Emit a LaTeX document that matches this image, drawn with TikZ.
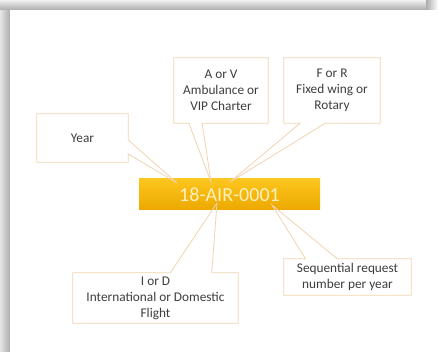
\documentclass[tikz,border=0pt]{standalone}
\usepackage{fontspec}
\setmainfont{Carlito}
\usetikzlibrary{calc}
\definecolor{edge}{RGB}{240,212,178}
\definecolor{ink}{RGB}{62,62,62}
\definecolor{goldtop}{RGB}{252,198,30}
\definecolor{goldbot}{RGB}{236,168,0}
\definecolor{codetext}{RGB}{255,240,190}

\begin{document}
\begin{tikzpicture}[x=1pt, y=-1pt,
  note/.style = {shape=rectangle, align=center, inner sep=0pt,
    text=ink, font=\fontsize{13.3}{16}\selectfont},
  code/.style = {shape=rectangle, inner sep=0pt,
    minimum width=181pt, minimum height=31pt,
    top color=goldtop, bottom color=goldbot,
    text=codetext, font=\fontsize{20}{24}\selectfont},
  callout/.style = {draw=edge, line width=0.8pt}]
\useasboundingbox (0,0) rectangle (438,352);
% page with its shadow
\fill[gray!55] (0,0) rectangle (438,352);
\shade[left color=gray!20, right color=gray!65] (0,0) rectangle (10,352);
\shade[top color=gray!12, bottom color=gray!65] (0,0) rectangle (438,10);
\shade[left color=gray!65, right color=white] (426,0) rectangle (438,10);
\fill[white] (10,10) rectangle (438,352);

\node[code] (code) at (229.5,194.5) {18-AIR-0001};

\node[note, minimum width=91pt, minimum height=48pt] (year) at (82.5,138) {Year};
\node[note, minimum width=94pt, minimum height=65pt] (avip) at (221,90.5)
  {A or V\\Ambulance or\\VIP Charter};
\node[note, minimum width=96pt, minimum height=65pt] (fixrot) at (332,90.5)
  {F or R\\Fixed wing or\\Rotary};
\node[note, minimum width=165pt, minimum height=50pt] (intdom) at (155.5,298)
  {I or D\\International or Domestic\\Flight};
\node[note, minimum width=127pt, minimum height=36pt] (seqnum) at (347.5,277)
  {Sequential request\\number per year};

% pointer tips on the code
\coordinate (tyear) at (177,183);
\coordinate (tavip) at (211,182);
\coordinate (tfixrot) at (230,182);
\coordinate (tintdom) at (217,203);
\coordinate (tseqnum) at (272,205);

% callout outlines
\draw[callout] (year.north west) -- (year.north east)
  -- ($(year.north east)!.54!(year.south east)$) -- (tyear)
  -- ($(year.north east)!.83!(year.south east)$)
  -- (year.south east) -- (year.south west) -- cycle;
\draw[callout] (avip.north west) -- (avip.north east) -- (avip.south east)
  -- ($(avip.south west)!.30!(avip.south east)$) -- (tavip)
  -- ($(avip.south west)!.16!(avip.south east)$)
  -- (avip.south west) -- cycle;
\draw[callout] (fixrot.north west) -- (fixrot.north east) -- (fixrot.south east)
  -- ($(fixrot.south west)!.43!(fixrot.south east)$) -- (tfixrot)
  -- ($(fixrot.south west)!.17!(fixrot.south east)$)
  -- (fixrot.south west) -- cycle;
\draw[callout] (intdom.north west)
  -- ($(intdom.north west)!.59!(intdom.north east)$) -- (tintdom)
  -- ($(intdom.north west)!.84!(intdom.north east)$)
  -- (intdom.north east) -- (intdom.south east) -- (intdom.south west) -- cycle;
\draw[callout] (seqnum.north west)
  -- ($(seqnum.north west)!.17!(seqnum.north east)$) -- (tseqnum)
  -- ($(seqnum.north west)!.42!(seqnum.north east)$)
  -- (seqnum.north east) -- (seqnum.south east) -- (seqnum.south west) -- cycle;
\end{tikzpicture}
\end{document}
